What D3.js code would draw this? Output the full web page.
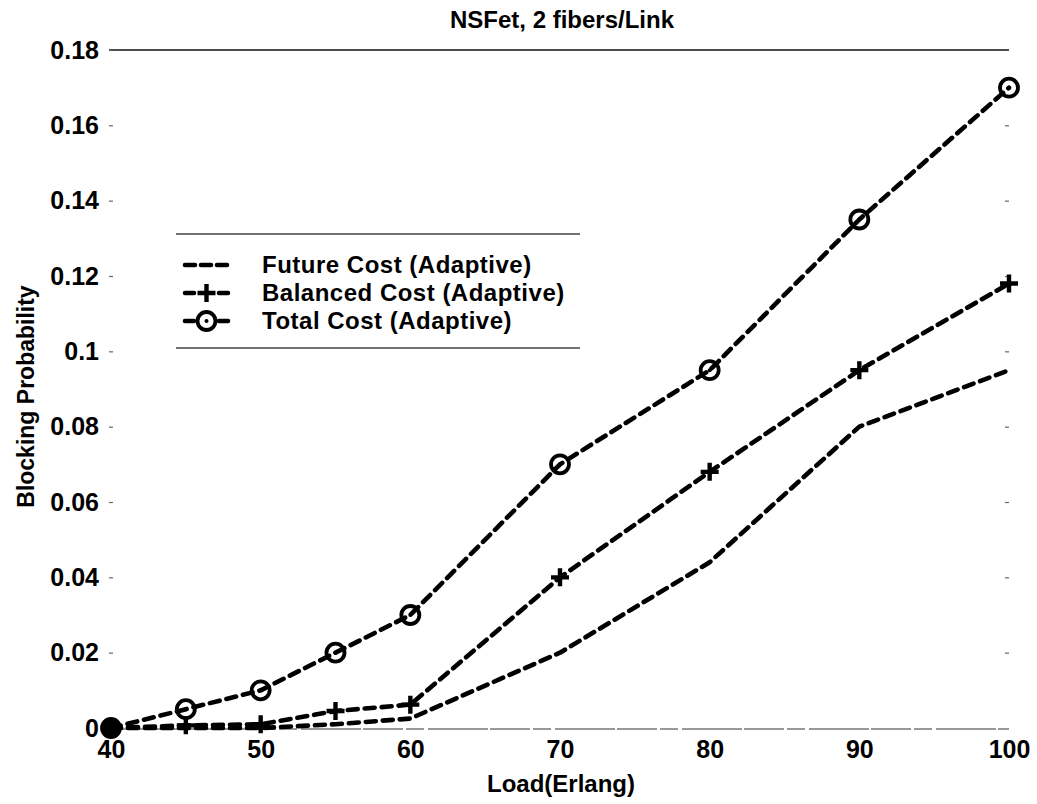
<!DOCTYPE html>
<html>
<head>
<meta charset="utf-8">
<script src="https://cdn.jsdelivr.net/npm/d3@7"></script>
<style>
  html, body { margin: 0; padding: 0; background: #fff; }
  svg { display: block; font-family: "Liberation Sans", Arial, sans-serif; }
</style>
</head>
<body>
<svg id="chart" width="1037" height="804"></svg>
<script>
// Offered load (Erlang)
const loads = [40, 45, 50, 55, 60, 70, 80, 90, 100];
// Blocking probability per routing cost function
const futureCost   = [0, 0, 0, 0.001, 0.0025, 0.020, 0.044, 0.080, 0.095];
const balancedCost = [0, 0.0007, 0.001, 0.0045, 0.0062, 0.040, 0.068, 0.095, 0.118];
const totalCost    = [0, 0.005, 0.010, 0.020, 0.030, 0.070, 0.095, 0.135, 0.170];

const seriesNames = ["Future Cost (Adaptive)", "Balanced Cost (Adaptive)", "Total Cost (Adaptive)"];
const xTicks = [40, 50, 60, 70, 80, 90, 100];
const yTicks = [0, 0.02, 0.04, 0.06, 0.08, 0.1, 0.12, 0.14, 0.16, 0.18];
const yTickLabels = ["0", "0.02", "0.04", "0.06", "0.08", "0.1", "0.12", "0.14", "0.16", "0.18"];

const chartTitle = "NSFet, 2 fibers/Link";
const xTitle = "Load(Erlang)";
const yTitle = "Blocking Probability";

const svg = d3.select("#chart");
const plot = { left: 109, right: 1009, top: 50, bottom: 728 };

const x = d3.scaleLinear().domain([40, 100]).range([plot.left + 2, plot.right]);
const y = d3.scaleLinear().domain([0, 0.18]).range([plot.bottom, plot.top]);

// Frame: solid top edge, lighter broken bottom edge
svg.append("line")
  .attr("x1", plot.left).attr("x2", plot.right)
  .attr("y1", y(0.18)).attr("y2", y(0.18))
  .attr("stroke", "#111").attr("stroke-width", 1.6);
svg.append("line")
  .attr("x1", plot.left).attr("x2", plot.right)
  .attr("y1", y(0) + 1).attr("y2", y(0) + 1)
  .attr("stroke", "#777").attr("stroke-width", 1.4)
  .attr("stroke-dasharray", "40 3 18 4 60 2");

// Left axis: labels with small inward ticks
const yAxisL = d3.axisLeft(y).tickValues(yTicks)
  .tickFormat((d, i) => yTickLabels[i]).tickSize(-4).tickPadding(10);
const gL = svg.append("g").attr("transform", `translate(${plot.left},0)`).call(yAxisL);
gL.select(".domain").remove();
gL.selectAll(".tick line").attr("stroke", "#666").attr("stroke-width", 1.2);
gL.selectAll(".tick text")
  .attr("font-size", 25).attr("font-weight", "bold").attr("fill", "#000");

// Right axis: ticks only
const yAxisR = d3.axisRight(y).tickValues(yTicks.slice(1, -1)).tickFormat("").tickSize(-4);
const gR = svg.append("g").attr("transform", `translate(${plot.right},0)`).call(yAxisR);
gR.select(".domain").remove();
gR.selectAll(".tick line").attr("stroke", "#666").attr("stroke-width", 1.2);

// Bottom axis labels
const xAxis = d3.axisBottom(x).tickValues(xTicks).tickSize(0).tickPadding(12);
const gB = svg.append("g").attr("transform", `translate(0,${plot.bottom})`).call(xAxis);
gB.select(".domain").remove();
gB.selectAll(".tick text")
  .attr("font-size", 25).attr("font-weight", "bold").attr("fill", "#000");

// Titles
svg.append("text").attr("x", 562).attr("y", 28).attr("text-anchor", "middle")
  .attr("font-size", 24).attr("font-weight", "bold").text(chartTitle);
svg.append("text").attr("x", 561).attr("y", 792).attr("text-anchor", "middle")
  .attr("font-size", 24).attr("font-weight", "bold").text(xTitle);
svg.append("text")
  .attr("transform", `translate(34,${y(0.088)}) rotate(-90)`)
  .attr("text-anchor", "middle")
  .attr("font-size", 23).attr("font-weight", "bold").text(yTitle);

// Series
const series = [
  { name: seriesNames[0], values: futureCost, marker: "none" },
  { name: seriesNames[1], values: balancedCost, marker: "plus" },
  { name: seriesNames[2], values: totalCost, marker: "circle" }
];

const line = d3.line().x(d => x(d[0])).y(d => y(d[1]));
const dash = "10 7";
const lineW = 4.6;

function drawMarker(g, kind, cx, cy) {
  if (kind === "plus") {
    g.append("path")
      .attr("d", `M${cx - 9},${cy}H${cx + 9}M${cx},${cy - 9}V${cy + 9}`)
      .attr("stroke", "#000").attr("stroke-width", 4.4).attr("fill", "none");
  } else if (kind === "circle") {
    g.append("circle").attr("cx", cx).attr("cy", cy).attr("r", 9)
      .attr("fill", "none").attr("stroke", "#000").attr("stroke-width", 3.8);
    g.append("circle").attr("cx", cx).attr("cy", cy).attr("r", 2).attr("fill", "#000");
  }
}

series.forEach(s => {
  const pts = loads.map((l, i) => [l, s.values[i]]);
  const g = svg.append("g");
  g.append("path").datum(pts).attr("d", line)
    .attr("fill", "none").attr("stroke", "#000").attr("stroke-width", lineW)
    .attr("stroke-dasharray", dash).attr("stroke-linecap", "round")
    .attr("stroke-linejoin", "round");
  pts.forEach(p => drawMarker(g, s.marker, x(p[0]), y(p[1])));
});

// Merged start point at zero load blocking
svg.append("circle").attr("cx", x(loads[0])).attr("cy", y(totalCost[0])).attr("r", 10).attr("fill", "#000");

// Legend
const lg = { x1: 176, x2: 580, top: 234, bottom: 348, sx1: 185, sx2: 228, tx: 262 };
const rowY = [265, 293, 321];
svg.append("line").attr("x1", lg.x1).attr("x2", lg.x2).attr("y1", lg.top).attr("y2", lg.top)
  .attr("stroke", "#444").attr("stroke-width", 1.3);
svg.append("line").attr("x1", lg.x1).attr("x2", lg.x2).attr("y1", lg.bottom).attr("y2", lg.bottom)
  .attr("stroke", "#444").attr("stroke-width", 1.3);
series.forEach((s, i) => {
  const ly = rowY[i];
  svg.append("line").attr("x1", lg.sx1).attr("x2", lg.sx2).attr("y1", ly).attr("y2", ly)
    .attr("stroke", "#000").attr("stroke-width", lineW)
    .attr("stroke-dasharray", s.marker === "none" ? "10 6" : "9 25 9")
    .attr("stroke-linecap", "round");
  drawMarker(svg, s.marker, (lg.sx1 + lg.sx2) / 2, ly);
  svg.append("text").attr("x", lg.tx).attr("y", ly + 8)
    .attr("font-size", 24).attr("font-weight", "bold")
    .attr("letter-spacing", 0.5).text(s.name);
});
</script>
</body>
</html>
